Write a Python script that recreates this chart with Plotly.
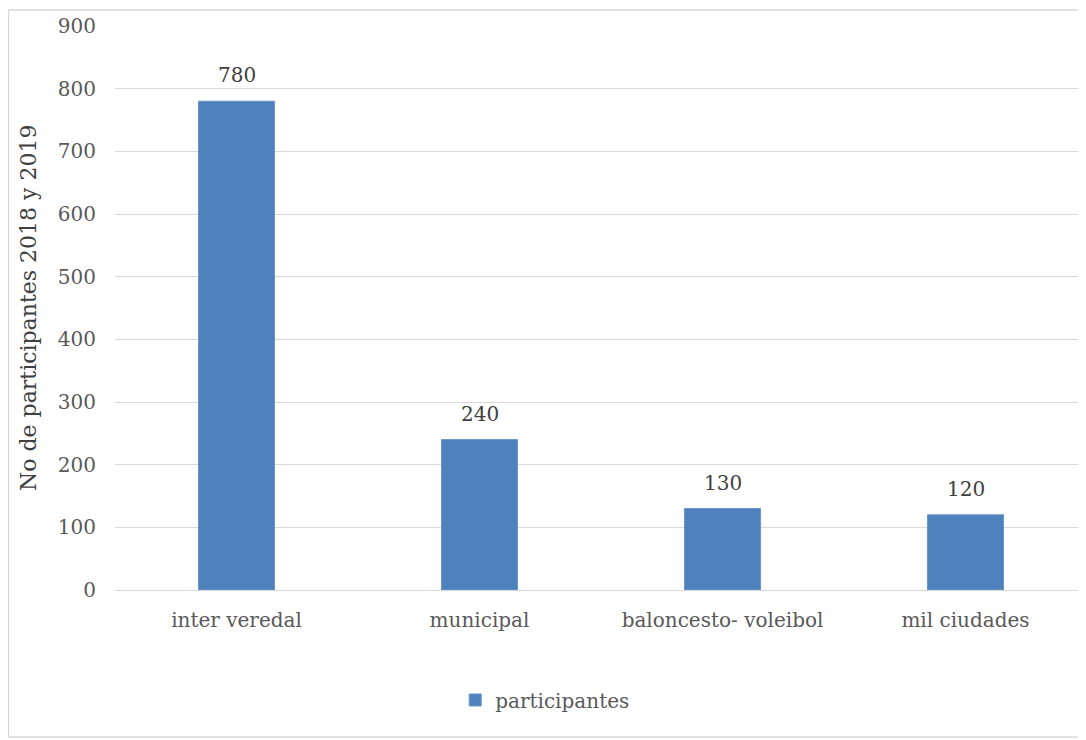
import plotly.graph_objects as go

categories = ["inter veredal", "municipal", "baloncesto- voleibol", "mil ciudades"]
values = [780, 240, 130, 120]
series_name = "participantes"
y_ticks = [0, 100, 200, 300, 400, 500, 600, 700, 800, 900]
y_title = "No de participantes 2018 y 2019"

FONT = "DejaVu Serif"
GRAY = "#595959"
DARK = "#404040"

fig = go.Figure()
fig.add_trace(go.Bar(
    x=categories, y=values, name=series_name,
    marker=dict(color="#4f81bd", line=dict(color="#6b95c9", width=1)),
    width=0.313,
    cliponaxis=False,
))

annotations = [
    dict(x=c, y=v, xref="x", yref="y", text=str(v), showarrow=False,
         yanchor="middle", yshift=26, font=dict(family=FONT, size=20, color=DARK))
    for c, v in zip(categories, values)
]
annotations.append(dict(x=0, y=0.5, xref="paper", yref="paper", text=y_title,
                        textangle=-90, showarrow=False, xanchor="center", yanchor="middle",
                        xshift=-87, font=dict(family=FONT, size=22, color=DARK)))

fig.update_layout(
    width=1086, height=740,
    margin=dict(l=107, r=7, t=18, b=158),
    paper_bgcolor="white", plot_bgcolor="white",
    font=dict(family=FONT, size=20, color=GRAY),
    showlegend=True,
    legend=dict(orientation="h", x=0.35, y=-0.195, xanchor="left", yanchor="middle",
                font=dict(family=FONT, size=20, color=GRAY)),
    xaxis=dict(showgrid=False, showline=True, linecolor="#d9d9d9", linewidth=1,
               tickfont=dict(family=FONT, size=20, color=GRAY), ticks="",
               ticklabelstandoff=12),
    yaxis=dict(range=[0, 900], tickvals=y_ticks, showgrid=True, gridcolor="#d9d9d9",
               gridwidth=1, zeroline=False, ticks="", showline=False,
               tickfont=dict(family=FONT, size=20, color=GRAY), ticklabelstandoff=18),
    annotations=annotations,
    shapes=[dict(type="rect", xref="paper", yref="paper",
                 x0=-0.1096, x1=1.02, y0=-0.2606, y1=1.0284,
                 line=dict(color="#d9d9d9", width=1.5), fillcolor="rgba(0,0,0,0)", layer="below")],
)

fig.write_html("out.html")
